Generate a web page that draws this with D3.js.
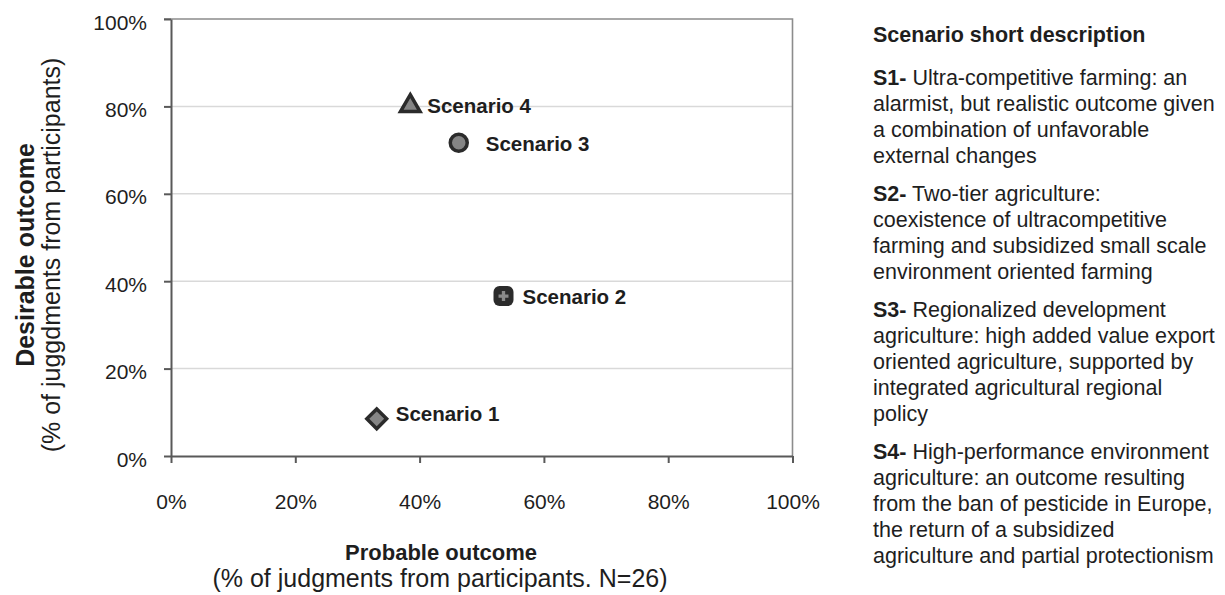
<!DOCTYPE html>
<html>
<head>
<meta charset="utf-8">
<script src="https://cdn.jsdelivr.net/npm/d3@7"></script>
<style>
  body { margin: 0; background: #fff; }
  svg text { font-family: "Liberation Sans", Arial, sans-serif; fill: #1e1e1e; }
</style>
</head>
<body>
<div id="chart"></div>
<script>
// data
var scenarioNames = ["Scenario 1", "Scenario 2", "Scenario 3", "Scenario 4"];
var probableValues = [0.331, 0.535, 0.463, 0.385];
var desirableValues = [0.085, 0.366, 0.717, 0.801];
var markerShapes = ["diamond", "cross", "circle", "triangle"];
var tickValues = [0, 0.2, 0.4, 0.6, 0.8, 1];

var descHeading = "Scenario short description";
var descCodes = ["S1-", "S2-", "S3-", "S4-"];
var descLines = [
  ["Ultra-competitive farming: an", "alarmist, but realistic outcome given", "a combination of unfavorable", "external changes"],
  ["Two-tier agriculture:", "coexistence of ultracompetitive", "farming and subsidized small scale", "environment oriented farming"],
  ["Regionalized development", "agriculture: high added value export", "oriented agriculture, supported by", "integrated agricultural regional", "policy"],
  ["High-performance environment", "agriculture: an outcome resulting", "from the ban of pesticide in Europe,", "the return of a subsidized", "agriculture and partial protectionism"]
];

var svgWidth = 1225;
var svgHeight = 595;
var plot = {left: 171, right: 792.5, top: 19, bottom: 456};

var svg = d3.select("#chart")
  .append("svg")
  .attr("width", svgWidth)
  .attr("height", svgHeight);

var x = d3.scaleLinear().domain([0, 1]).range([plot.left, plot.right]);
var y = d3.scaleLinear().domain([0, 1]).range([plot.bottom, plot.top]);

// gridlines
svg.append("g").selectAll("line")
  .data(tickValues.filter(d => d > 0 && d < 1))
  .enter()
  .append("line")
  .attr("x1", plot.left)
  .attr("x2", plot.right)
  .attr("y1", d => y(d))
  .attr("y2", d => y(d))
  .attr("stroke", "#d9d9d9")
  .attr("stroke-width", 1.5);

// top and right border
svg.append("path")
  .attr("d", `M${plot.left - 7},${y(1)}H${x(1)}V${plot.bottom}`)
  .attr("fill", "none")
  .attr("stroke", "#8c8c8c")
  .attr("stroke-width", 1.6);

// axes
var fmt = d3.format(".0%");
var leftAxis = d3.axisLeft(y).tickValues(tickValues).tickFormat(fmt).tickSize(7).tickSizeOuter(0).tickPadding(17);
var bottomAxis = d3.axisBottom(x).tickValues(tickValues).tickFormat(fmt).tickSize(7).tickSizeOuter(0).tickPadding(31);

var yAxis = svg.append("g")
  .attr("transform", `translate(${plot.left}, 0)`)
  .call(leftAxis);
var xAxis = svg.append("g")
  .attr("transform", `translate(0, ${plot.bottom})`)
  .call(bottomAxis);

[yAxis, xAxis].forEach(function (ax) {
  ax.select(".domain").attr("stroke", "#595959").attr("stroke-width", 2);
  ax.selectAll(".tick line").attr("stroke", "#595959").attr("stroke-width", 2);
  ax.selectAll(".tick text")
    .attr("font-size", 21)
    .attr("font-family", null)
    .attr("fill", "#1e1e1e");
});
yAxis.selectAll(".tick text").attr("dy", "0.48em");

// markers
var labelShift = [[19, -5], [19, 1], [27, 1], [17, 0]];

var points = scenarioNames.map((name, i) => ({
  name: name,
  px: probableValues[i],
  dy: desirableValues[i],
  shape: markerShapes[i],
  i: i
}));

var markers = svg.append("g").selectAll("g")
  .data(points)
  .enter()
  .append("g")
  .attr("transform", d => `translate(${x(d.px)}, ${y(d.dy)})`);

markers.each(function (d) {
  var g = d3.select(this);
  if (d.shape == "diamond") {
    g.append("rect")
      .attr("x", -7).attr("y", -7).attr("width", 14).attr("height", 14)
      .attr("transform", "rotate(45)")
      .attr("fill", "#858585").attr("stroke", "#2b2b2b").attr("stroke-width", 3.5);
  } else if (d.shape == "cross") {
    g.append("rect")
      .attr("x", -10).attr("y", -10).attr("width", 20).attr("height", 20)
      .attr("rx", 6)
      .attr("fill", "#2b2b2b");
    g.append("path")
      .attr("d", d3.symbol().type(d3.symbolCross).size(55)())
      .attr("fill", "#8a8a8a");
  } else if (d.shape == "circle") {
    g.append("circle")
      .attr("r", 8.5)
      .attr("fill", "#858585").attr("stroke", "#2b2b2b").attr("stroke-width", 3.5);
  } else {
    g.append("path")
      .attr("d", d3.symbol().type(d3.symbolTriangle).size(165)())
      .attr("fill", "#858585").attr("stroke", "#2b2b2b").attr("stroke-width", 3.5);
  }
});

svg.append("g").selectAll("text")
  .data(points)
  .enter()
  .append("text")
  .attr("x", d => x(d.px) + labelShift[d.i][0])
  .attr("y", d => y(d.dy) + labelShift[d.i][1])
  .attr("dy", "0.36em")
  .attr("font-size", 20.5)
  .attr("font-weight", "bold")
  .text(d => d.name);

// axis titles
svg.append("text")
  .attr("x", 441)
  .attr("y", 560)
  .attr("text-anchor", "middle")
  .attr("font-size", 22)
  .attr("font-weight", "bold")
  .text("Probable outcome");
svg.append("text")
  .attr("x", 440)
  .attr("y", 587)
  .attr("text-anchor", "middle")
  .attr("font-size", 25)
  .text("(% of judgments from participants. N=26)");

svg.append("text")
  .attr("transform", "translate(34, 255) rotate(-90)")
  .attr("text-anchor", "middle")
  .attr("font-size", 25)
  .attr("font-weight", "bold")
  .text("Desirable outcome");
svg.append("text")
  .attr("transform", "translate(60, 255) rotate(-90)")
  .attr("text-anchor", "middle")
  .attr("font-size", 25)
  .text("(% of juggdments from participants)");

// description panel
var descX = 873;
var lineStep = 26;
var blockStep = 38;
var desc = svg.append("g");
desc.append("text")
  .attr("x", descX)
  .attr("y", 42)
  .attr("font-size", 21.5)
  .attr("font-weight", "bold")
  .text(descHeading);

var yPos = 85;
descLines.forEach(function (lines, b) {
  lines.forEach(function (line, j) {
    var t = desc.append("text")
      .attr("x", descX)
      .attr("y", yPos)
      .attr("font-size", 21.5);
    if (j === 0) {
      t.append("tspan").attr("font-weight", "bold").text(descCodes[b]);
      t.append("tspan").text(" " + line);
    } else {
      t.text(line);
    }
    yPos += lineStep;
  });
  yPos += blockStep - lineStep;
});
</script>
</body>
</html>
